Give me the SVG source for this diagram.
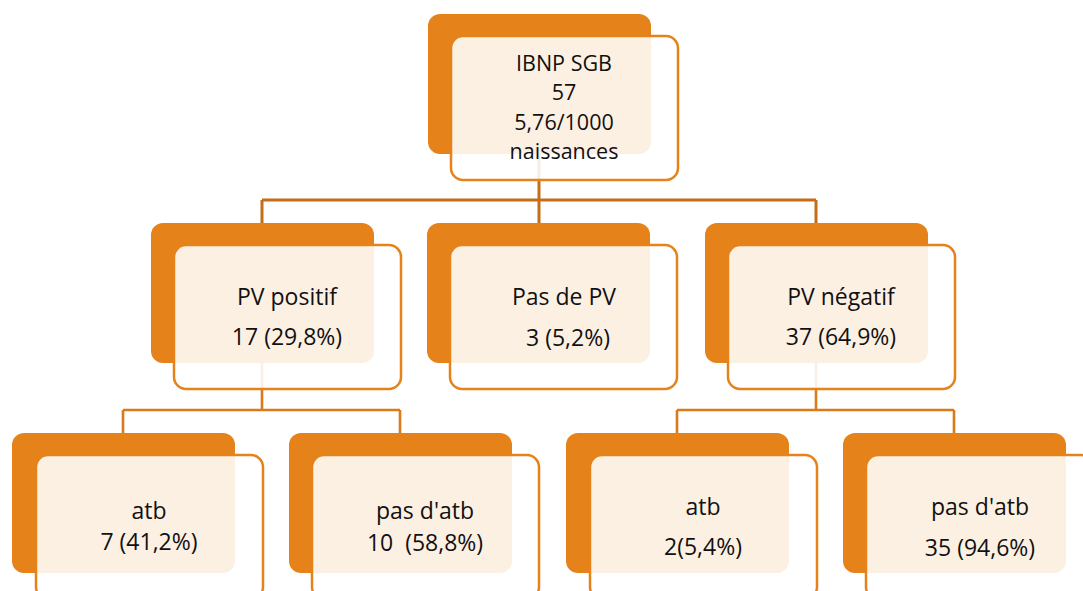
<svg xmlns="http://www.w3.org/2000/svg" width="1083" height="591" viewBox="0 0 1083 591">
  <defs>
    <style>
      .back { fill: #E5821A; }
      .front { fill: #FFFFFF; fill-opacity: 0.88; stroke: #E5821A; stroke-width: 2.5; }
      .lbl { font-family: "Open Sans", "Noto Sans", sans-serif; font-size: 23px; fill: #111111; text-anchor: middle; }
      .lbl.tight { font-size: 21.5px; }
      .c1 { fill: none; stroke: #C46F17; stroke-width: 3; }
      .c2 { fill: none; stroke: #D97B1A; stroke-width: 2.6; }
    </style>
  </defs>
  <rect width="1083" height="591" fill="#FFFFFF"/>

  <!-- connectors (drawn beneath the node boxes) -->
  <g id="connectors">
    <path class="c1" d="M539,153 V200 M262,200 H816 M262,200 V224 M539,200 V224 M816,200 V224"/>
    <path class="c2" d="M262,363 V410 M123,410 H400 M123,410 V434 M400,410 V434"/>
    <path class="c2" d="M816,363 V410 M677,410 H954 M677,410 V434 M954,410 V434"/>
  </g>

  <!-- level 1 -->
  <g id="root">
    <rect class="back" x="428" y="14" width="223" height="140" rx="12"/>
    <rect class="front" x="451" y="36" width="227" height="144" rx="12"/>
    <text class="lbl tight" x="564" y="71">IBNP SGB</text>
    <text class="lbl tight" x="564" y="100.4">57</text>
    <text class="lbl tight" x="564" y="129.8">5,76/1000</text>
    <text class="lbl tight" x="564" y="159.2">naissances</text>
  </g>

  <!-- level 2 -->
  <g id="pv-positif">
    <rect class="back" x="151" y="223" width="223" height="140" rx="12"/>
    <rect class="front" x="174" y="245" width="227" height="144" rx="12"/>
    <text class="lbl" x="287" y="305">PV positif</text>
    <text class="lbl" x="287" y="345">17 (29,8%)</text>
  </g>
  <g id="pas-de-pv">
    <rect class="back" x="427" y="223" width="223" height="140" rx="12"/>
    <rect class="front" x="450" y="245" width="227" height="144" rx="12"/>
    <text class="lbl" x="564" y="305">Pas de PV</text>
    <text class="lbl" x="568" y="346">3 (5,2%)</text>
  </g>
  <g id="pv-negatif">
    <rect class="back" x="705" y="223" width="223" height="140" rx="12"/>
    <rect class="front" x="728" y="245" width="227" height="144" rx="12"/>
    <text class="lbl" x="841" y="305">PV négatif</text>
    <text class="lbl" x="841" y="345">37 (64,9%)</text>
  </g>

  <!-- level 3 -->
  <g id="pos-atb">
    <rect class="back" x="12" y="433" width="223" height="140" rx="12"/>
    <rect class="front" x="36" y="455" width="227" height="144" rx="12"/>
    <text class="lbl" x="149" y="519">atb</text>
    <text class="lbl" x="149" y="550">7 (41,2%)</text>
  </g>
  <g id="pos-pas-atb">
    <rect class="back" x="289" y="433" width="223" height="140" rx="12"/>
    <rect class="front" x="312" y="455" width="227" height="144" rx="12"/>
    <text class="lbl" x="425" y="519">pas d'atb</text>
    <text class="lbl" x="425" y="551" xml:space="preserve">10  (58,8%)</text>
  </g>
  <g id="neg-atb">
    <rect class="back" x="566" y="433" width="223" height="140" rx="12"/>
    <rect class="front" x="590" y="455" width="227" height="144" rx="12"/>
    <text class="lbl" x="703" y="515">atb</text>
    <text class="lbl" x="703" y="555">2(5,4%)</text>
  </g>
  <g id="neg-pas-atb">
    <rect class="back" x="843" y="433" width="223" height="140" rx="12"/>
    <rect class="front" x="866" y="455" width="227" height="144" rx="12"/>
    <text class="lbl" x="980" y="515">pas d'atb</text>
    <text class="lbl" x="980" y="556">35 (94,6%)</text>
  </g>
</svg>
